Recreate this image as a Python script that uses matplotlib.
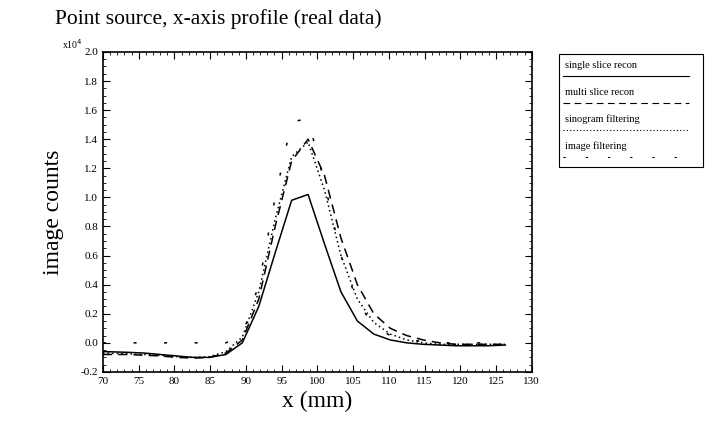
import numpy as np
import matplotlib
matplotlib.use("Agg")
import matplotlib.pyplot as plt
from matplotlib.ticker import MultipleLocator, AutoMinorLocator

# sample positions (mm) and profiles (x10^4 counts)
x_mm = [70.0, 73.4, 75.7, 78.0, 80.3, 82.6, 84.9, 87.2, 89.5, 91.8, 94.1, 96.4, 98.7,
        101.0, 103.3, 105.6, 107.9, 110.2, 112.5, 114.8, 117.1, 119.4, 121.7, 124.0, 126.3]

single_slice = [-0.06, -0.065, -0.07, -0.08, -0.09, -0.10, -0.10, -0.08, 0.0, 0.25, 0.62, 0.98, 1.02,
                0.68, 0.35, 0.15, 0.06, 0.02, 0.0, -0.01, -0.015, -0.02, -0.02, -0.02, -0.015]
multi_slice = [-0.08, -0.08, -0.085, -0.09, -0.10, -0.105, -0.10, -0.07, 0.02, 0.30, 0.80, 1.25, 1.40,
               1.15, 0.72, 0.40, 0.20, 0.10, 0.05, 0.02, 0.0, -0.01, -0.01, -0.01, -0.01]
sino_filt = [-0.07, -0.075, -0.08, -0.085, -0.095, -0.10, -0.095, -0.06, 0.04, 0.35, 0.85, 1.28, 1.38,
             1.05, 0.60, 0.30, 0.14, 0.06, 0.02, 0.0, -0.01, -0.01, -0.01, -0.01, -0.01]
image_filt = [0.0, 0.0, 0.0, 0.0, 0.0, 0.0, 0.0, 0.0, 0.05, 0.40, 1.00, 1.52, 1.54,
              1.10, 0.60, 0.28, 0.12, 0.05, 0.02, 0.01, 0.0, 0.0, 0.0, 0.0, 0.0]

labels = ["single slice recon", "multi slice recon", "sinogram filtering", "image filtering"]
styles = ["-", (0, (6, 4)), (0, (1, 2)), (0, (2, 18))]
series = [single_slice, multi_slice, sino_filt, image_filt]

xticks = [70, 75, 80, 85, 90, 95, 100, 105, 110, 115, 120, 125, 130]
yticks = [-0.2, 0.0, 0.2, 0.4, 0.6, 0.8, 1.0, 1.2, 1.4, 1.6, 1.8, 2.0]

plt.rcParams['font.family'] = ['Liberation Serif', 'DejaVu Serif']

fig = plt.figure(figsize=(7.1, 4.29), dpi=100)
ax = fig.add_axes([0.145, 0.133, 0.604, 0.746])

for ys, ls in zip(series, styles):
    ax.plot(x_mm, ys, color="black", linestyle=ls, linewidth=1.1)

ax.set_xlim(70, 130)
ax.set_ylim(-0.2, 2.0)
ax.set_xticks(xticks)
ax.set_xticklabels([str(t) for t in xticks])
ax.set_yticks(yticks)
ax.set_yticklabels(["%.1f" % t for t in yticks])
ax.xaxis.set_minor_locator(AutoMinorLocator(5))
ax.yaxis.set_minor_locator(AutoMinorLocator(4))
ax.tick_params(which="both", direction="in", top=True, right=True, labelsize=8)
ax.tick_params(which="major", length=5)
ax.tick_params(which="minor", length=2.5)
for s in ax.spines.values():
    s.set_linewidth(1.2)

ax.set_xlabel("x (mm)", fontsize=17)
ax.set_ylabel("image counts", fontsize=17, labelpad=12)
fig.text(0.077, 0.955, "Point source, x-axis profile (real data)", fontsize=15.5, va="center")
fig.text(0.088, 0.897, r"x10$^{4}$", fontsize=7, va="center")

# legend box (text with line beneath, like the original)
lx0, lx1 = 0.788, 0.990
fig.patches.append(plt.Rectangle((lx0, 0.61), lx1 - lx0, 0.265, transform=fig.transFigure,
                                 fill=False, edgecolor="black", linewidth=0.8))
for i, (lab, ls) in enumerate(zip(labels, styles)):
    ty = 0.848 - i * 0.063
    fig.text(lx0 + 0.008, ty, lab, fontsize=7.5, va="center")
    fig.lines.append(plt.Line2D([lx0 + 0.005, lx1 - 0.02], [ty - 0.025, ty - 0.025],
                                transform=fig.transFigure, color="black", linestyle=ls, linewidth=0.8))

fig.savefig("out.png", dpi=100)
